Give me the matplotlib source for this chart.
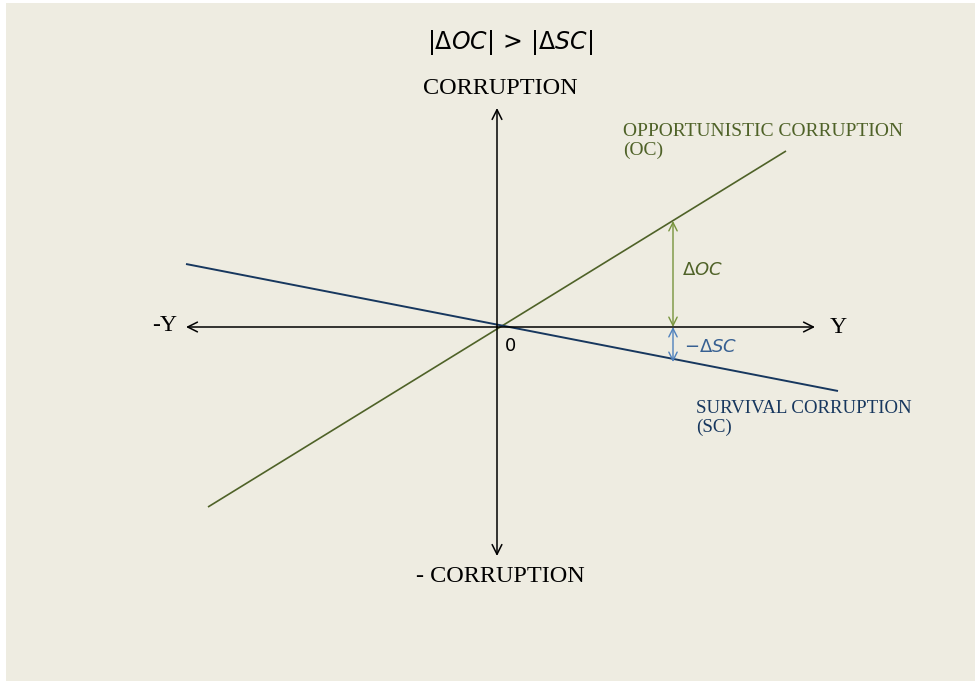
import matplotlib
matplotlib.use("Agg")
import matplotlib.pyplot as plt
from matplotlib.patches import Rectangle

# ---- data (diagram units, origin at the axes crossing) ----
oc_x = [-28.9, 28.9]
oc_y = [-18.0, 17.6]
sc_x = [-31.1, 34.1]
sc_y = [6.3, -6.4]
h_axis = [-31.1, 31.8]     # -Y ... Y
v_axis = [-22.9, 21.9]     # -CORRUPTION ... CORRUPTION
delta_x = 17.6
delta_oc = 10.6
delta_sc = -3.5

title = r'$|\Delta OC|\, >\, |\Delta SC|$'
oc_label = "OPPORTUNISTIC CORRUPTION\n(OC)"
sc_label = "SURVIVAL CORRUPTION\n(SC)"

BG = "#EEECE1"
OC_DARK = "#4F6228"
OC_LIGHT = "#77933C"
SC_DARK = "#17375E"
SC_LIGHT = "#4F81BD"

fig = plt.figure(figsize=(9.78, 6.81), dpi=100, facecolor="white")
fig.patches.append(Rectangle((6 / 978, 0), (975 - 6) / 978, (681 - 3) / 681,
                             transform=fig.transFigure, facecolor=BG,
                             edgecolor="none", zorder=-10))
ax = fig.add_axes([0, 0, 1, 1])
ax.set_facecolor("none")
ax.patch.set_alpha(0)
ax.set_xlim(-49.7, 48.1)
ax.set_ylim(-35.4, 32.7)
ax.axis("off")

serif = ["Liberation Serif", "DejaVu Serif"]
arrow_kw = dict(arrowstyle="->,head_length=0.7,head_width=0.35", lw=1.1,
                color="black", shrinkA=0, shrinkB=0)

# axes arrows
ax.annotate("", xy=(h_axis[1], 0), xytext=(0, 0), arrowprops=arrow_kw)
ax.annotate("", xy=(h_axis[0], 0), xytext=(0, 0), arrowprops=arrow_kw)
ax.annotate("", xy=(0, v_axis[1]), xytext=(0, 0), arrowprops=arrow_kw)
ax.annotate("", xy=(0, v_axis[0]), xytext=(0, 0), arrowprops=arrow_kw)

# lines
ax.plot(oc_x, oc_y, color=OC_DARK, lw=1.2, solid_capstyle="butt")
ax.plot(sc_x, sc_y, color=SC_DARK, lw=1.4, solid_capstyle="butt")

# delta arrows
ax.annotate("", xy=(delta_x, delta_oc), xytext=(delta_x, 0),
            arrowprops=dict(arrowstyle="<->,head_length=0.6,head_width=0.3",
                            lw=1.0, color=OC_LIGHT, shrinkA=0, shrinkB=0))
ax.annotate("", xy=(delta_x, delta_sc), xytext=(delta_x, 0),
            arrowprops=dict(arrowstyle="<->,head_length=0.6,head_width=0.3",
                            lw=1.0, color=SC_LIGHT, shrinkA=0, shrinkB=0))

# texts
ax.text(1.3, 28.4, title, ha="center", va="center", fontsize=17, color="black")
ax.text(0.3, 23.8, "CORRUPTION", ha="center", va="center", fontsize=17.5,
        family=serif, color="black")
ax.text(0.3, -25.0, "- CORRUPTION", ha="center", va="center", fontsize=17.5,
        family=serif, color="black")
ax.text(-32.0, 0.1, "-Y", ha="right", va="center", fontsize=17,
        family=serif, color="black")
ax.text(33.3, -0.1, "Y", ha="left", va="center", fontsize=17,
        family=serif, color="black")
ax.text(1.4, -1.9, "0", ha="center", va="center", fontsize=13,
        family="DejaVu Sans", color="black")
ax.text(12.6, 18.6, oc_label, ha="left", va="center", fontsize=14,
        family=serif, color=OC_DARK, linespacing=1.1)
ax.text(19.9, -9.1, sc_label, ha="left", va="center", fontsize=13.6,
        family=serif, color=SC_DARK, linespacing=1.12)
ax.text(18.5, 5.7, r'$\Delta OC$', ha="left", va="center", fontsize=13,
        color=OC_DARK)
ax.text(18.7, -2.0, r'$-\Delta SC$', ha="left", va="center", fontsize=13,
        color="#376092")

fig.savefig("out.png", dpi=100, facecolor="white")
